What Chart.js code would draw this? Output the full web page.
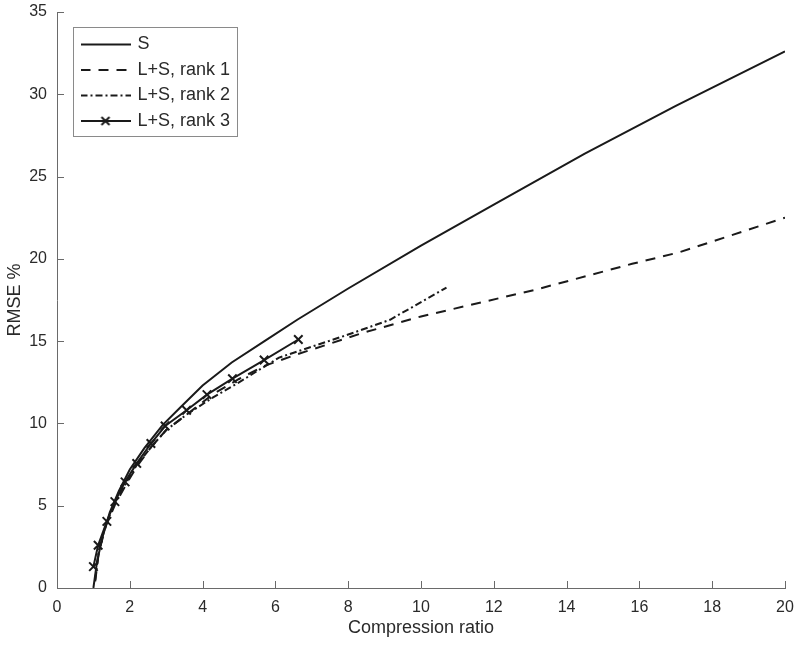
<!DOCTYPE html>
<html>
<head>
<meta charset="utf-8">
<script src="https://cdn.jsdelivr.net/npm/chart.js@4/dist/chart.umd.min.js"></script>
<style>
  html, body { margin: 0; padding: 0; background: #fff; }
  #chart { display: block; }
</style>
</head>
<body>
<canvas id="chart" width="800" height="645"></canvas>
<script>
// values
const seriesNames = ["S", "L+S, rank 1", "L+S, rank 2", "L+S, rank 3"];

const sX = [1.0, 1.1, 1.25, 1.45, 1.7, 2.0, 2.4, 2.9, 3.4, 4.0, 4.8, 5.7, 6.6, 8.0, 10.0, 12.0, 14.5, 17.0, 20.0];
const sY = [0, 1.6, 3.1, 4.6, 5.9, 7.2, 8.5, 9.9, 11.0, 12.3, 13.7, 15.0, 16.3, 18.2, 20.8, 23.3, 26.4, 29.3, 32.6];

const rank1X = [1.05, 1.15, 1.35, 1.6, 1.9, 2.2, 2.6, 3.0, 3.6, 4.3, 5.0, 5.7, 6.6, 8.4, 10.0, 13.1, 15.8, 17.1, 20.0];
const rank1Y = [0.4, 2.2, 3.8, 5.1, 6.3, 7.4, 8.6, 9.6, 10.6, 11.8, 12.7, 13.5, 14.2, 15.5, 16.5, 18.1, 19.7, 20.4, 22.5];

const rank2X = [1.05, 1.15, 1.35, 1.6, 1.9, 2.2, 2.6, 3.0, 3.6, 4.3, 5.0, 6.1, 8.0, 9.15, 10.7];
const rank2Y = [0.5, 2.3, 3.9, 5.2, 6.4, 7.5, 8.6, 9.6, 10.6, 11.6, 12.5, 14.0, 15.4, 16.3, 18.25];

const rank3X = [1.0, 1.13, 1.37, 1.59, 1.87, 2.19, 2.58, 2.97, 3.56, 4.12, 4.82, 5.69, 6.63];
const rank3Y = [1.3, 2.6, 4.05, 5.25, 6.45, 7.57, 8.78, 9.84, 10.8, 11.75, 12.72, 13.85, 15.1];

const xTicksMax = 20;
const yTicksMax = 35;

const LINE = "#1a1a1a";
const AXIS = "#6a6a6a";
const TEXT = "#2a2a2a";

Chart.defaults.font.family = "'Liberation Sans', Arial, sans-serif";

function toPoints(xs, ys) {
  return xs.map((x, i) => ({ x, y: ys[i] }));
}

// line samples for the legend (dash + marker drawn into a small canvas)
function legendSample(dash, marker) {
  const c = document.createElement("canvas");
  c.width = 50;
  c.height = 14;
  const g = c.getContext("2d");
  g.strokeStyle = LINE;
  g.lineWidth = 2;
  g.setLineDash(dash);
  g.beginPath();
  g.moveTo(0, 7);
  g.lineTo(50, 7);
  g.stroke();
  if (marker) {
    g.setLineDash([]);
    g.beginPath();
    g.moveTo(21, 3);
    g.lineTo(29, 11);
    g.moveTo(29, 3);
    g.lineTo(21, 11);
    g.stroke();
  }
  return c;
}

const dashes = [[], [10, 8], [7, 3, 2, 3], []];
const samples = dashes.map((d, i) => legendSample(d, i === 3));

// legend sits inside the plot, near the top-left corner, with a frame
const legendFrame = {
  id: "legendFrame",
  afterLayout(chart) {
    const lg = chart.legend;
    if (!lg) return;
    lg.left = chart.chartArea.left + 18;
    lg.top = 28;
  },
  afterDraw(chart) {
    const lg = chart.legend;
    const hb = lg && lg.legendHitBoxes;
    if (!hb || !hb.length) return;
    const last = hb[hb.length - 1];
    let right = 0;
    hb.forEach((h) => { right = Math.max(right, h.left + h.width); });
    const left = hb[0].left - 10;
    const top = hb[0].top - 9;
    const bottom = last.top + last.height + 5;
    const ctx = chart.ctx;
    ctx.save();
    ctx.strokeStyle = "#8a8a8a";
    ctx.lineWidth = 1;
    ctx.setLineDash([]);
    ctx.strokeRect(Math.round(left) + 0.5, Math.round(top) + 0.5, Math.round(right + 6 - left), Math.round(bottom - top));
    ctx.restore();
  },
};

// tick marks pointing into the plot
const inwardTicks = {
  id: "inwardTicks",
  beforeDatasetsDraw(chart) {
    const { x, y } = chart.scales;
    const ctx = chart.ctx;
    const len = 7;
    ctx.save();
    ctx.strokeStyle = AXIS;
    ctx.lineWidth = 1;
    ctx.beginPath();
    x.ticks.forEach((t) => {
      const px = Math.round(x.getPixelForValue(t.value)) + 0.5;
      ctx.moveTo(px, x.top);
      ctx.lineTo(px, x.top - len);
    });
    y.ticks.forEach((t) => {
      const py = Math.round(y.getPixelForValue(t.value)) + 0.5;
      ctx.moveTo(y.right, py);
      ctx.lineTo(y.right + len, py);
    });
    ctx.stroke();
    ctx.restore();
  },
};

function fixSize(prop, size) {
  return function (scale) {
    scale[prop] = size;
    scale.paddingTop = 0;
    scale.paddingBottom = 0;
    scale.paddingLeft = 0;
    scale.paddingRight = 0;
  };
}

const datasets = [
  { label: seriesNames[0], data: toPoints(sX, sY), borderDash: dashes[0], pointRadius: 0 },
  { label: seriesNames[1], data: toPoints(rank1X, rank1Y), borderDash: dashes[1], pointRadius: 0 },
  { label: seriesNames[2], data: toPoints(rank2X, rank2Y), borderDash: dashes[2], pointRadius: 0 },
  {
    label: seriesNames[3],
    data: toPoints(rank3X, rank3Y),
    borderDash: dashes[3],
    pointStyle: "crossRot",
    pointRadius: 6,
    pointBorderWidth: 2,
  },
].map((d) => Object.assign({
  borderColor: LINE,
  backgroundColor: LINE,
  pointBorderColor: LINE,
  borderWidth: 2,
  showLine: true,
  fill: false,
  tension: 0,
}, d));

new Chart(document.getElementById("chart"), {
  type: "scatter",
  data: { datasets },
  options: {
    responsive: false,
    animation: false,
    layout: { padding: { top: 12, right: 15, left: 0, bottom: 0 } },
    plugins: {
      tooltip: { enabled: false },
      legend: {
        position: "chartArea",
        align: "start",
        labels: {
          usePointStyle: true,
          pointStyleWidth: 46,
          padding: 7.5,
          color: TEXT,
          font: { size: 18 },
          generateLabels(chart) {
            const items = Chart.defaults.plugins.legend.labels.generateLabels(chart);
            items.forEach((it, i) => { it.pointStyle = samples[i]; });
            return items;
          },
        },
      },
    },
    scales: {
      x: {
        type: "linear",
        position: "bottom",
        min: 0,
        max: xTicksMax,
        ticks: { stepSize: 2, color: TEXT, font: { size: 16 }, padding: 10, maxRotation: 0 },
        grid: { display: false, drawTicks: false },
        border: { color: AXIS, width: 1 },
        title: { display: true, text: "Compression ratio", color: TEXT, font: { size: 18 }, padding: { top: 0, bottom: 6 } },
        afterFit: fixSize("height", 57),
      },
      y: {
        type: "linear",
        position: "left",
        min: 0,
        max: yTicksMax,
        ticks: { stepSize: 5, color: TEXT, font: { size: 16 }, padding: 10 },
        grid: { display: false, drawTicks: false },
        border: { color: AXIS, width: 1 },
        title: { display: true, text: "RMSE %", color: TEXT, font: { size: 18 }, padding: { top: 4, bottom: 0 } },
        afterFit: fixSize("width", 57),
      },
    },
  },
  plugins: [legendFrame, inwardTicks],
});
</script>
</body>
</html>
